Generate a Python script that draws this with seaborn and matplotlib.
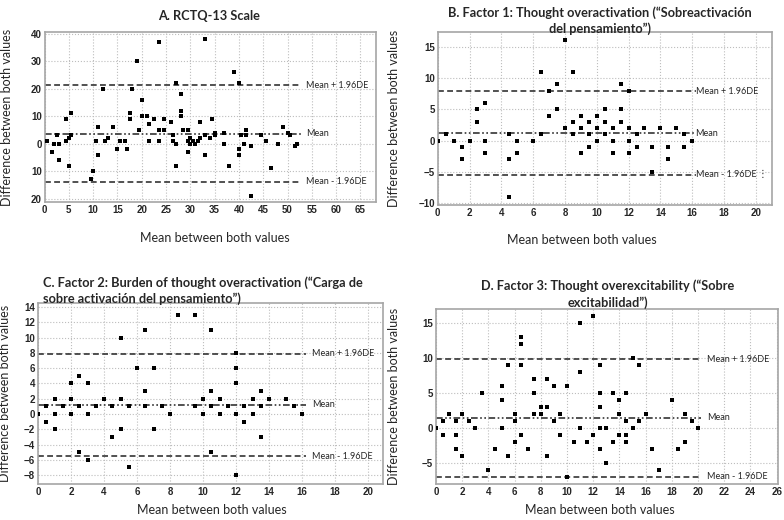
import numpy as np
import pandas as pd
import matplotlib
matplotlib.use("Agg")
import matplotlib.pyplot as plt
import matplotlib.ticker as ticker
import seaborn as sns

# =============================================================================
# DATA
# =============================================================================
# A. RCTQ-13 Scale
a_mean_x = [0.5, 1.5, 2, 2.5, 3, 3, 4.5, 4.5, 5, 5.5, 5.5, 5,
            9.5, 10, 10.5, 11, 11, 12, 12.5, 13, 14, 15, 15.5, 16.5, 17,
            17.5, 17.5, 18, 19, 19.5, 20, 20, 21, 21.5, 21.5, 22.5, 23.5, 23.5, 23.5,
            24.5, 24.5, 26, 26.5, 26.5, 27, 27, 27, 28, 28, 28, 28.5, 29.5, 29.5,
            29.5, 30, 30.5, 31, 31.5, 30, 32, 32, 33, 33, 33, 34, 34.5, 35, 35, 37, 37, 38,
            39, 40, 40, 40, 40.5, 41, 41.5, 41.5, 42.5, 42.5, 44.5, 45.5, 46.5, 48, 49, 50, 50.5, 51.5, 52]
a_diff = [1, -3, 0, 3, 0, -6, 9, 1, 2, 11, 3, -8,
          -13, -10, 1, 6, -4, 20, 1, 2, 6, -2, 1, 1, -2,
          11, 9, 20, 30, 5, 16, 10, 10, 7, 1, 9, 37, 5, 1,
          9, 5, 8, 3, 1, 0, 22, -8, 18, 12, 10, 5, 5, -3,
          1, 0, 1, 0, 1, 2, 2, 8, 38, 3, -4, 2, 9, 3, 4, 4, 0, -8,
          26, 22, -2, -4, 3, 0, 3, 5, -1, -19, 3, 1, -9, 0, 6, 4, 3, -1, 0]
a_limits = [3.7, 21.2, -13.8]   # mean, mean + 1.96DE, mean - 1.96DE

# B. Factor 1
b_mean_x = [0, 0.5, 1, 1.5, 1.5, 2, 2.5, 2.5, 3, 3, 3, 4.5, 4.5, 4.5, 5, 5, 6,
            6.5, 6.5, 7, 7, 7.5, 7.5, 8, 8, 8.5, 8.5, 8.5, 9, 9, 9, 9.5, 9.5, 9.5,
            10, 10, 10, 10.5, 10.5, 10.5, 11, 11, 11, 11.5, 11.5, 11.5, 12, 12, 12, 12,
            12.5, 12.5, 13, 13.5, 13.5, 14, 14.5, 14.5, 15, 15.5, 15.5, 16]
b_diff = [0, 1, 0, -1, -3, 0, 5, 3, 6, 0, -2, 1, -3, -9, 0, -2, 0,
          11, 1, 8, 4, 9, 5, 16, 2, 11, 3, 1, 4, 2, -2, 3, 1, -1,
          4, 2, 0, 5, 3, 1, 2, 0, -2, 9, 5, 3, 8, 2, 0, -2,
          1, -1, 2, -1, -5, 2, -1, -3, 2, 1, -1, 0]
b_limits = [1.2, 7.9, -5.5]

# C. Factor 2
c_mean_x = [0, 0.5, 0.5, 1, 1, 1, 1.5, 2, 2, 2, 2.5, 2.5, 2.5, 3, 3, 3, 3.5, 4, 4.5, 4.5,
            5, 5, 5, 5.5, 5.5, 6, 6.5, 6.5, 6.5, 7, 7, 7.5, 8, 8.5, 9.5, 9.5, 10, 10,
            10.5, 10.5, 10.5, 10.5, 11, 11, 11.5, 12, 12, 12, 12, 12, 12.5, 12.5,
            13, 13, 13.5, 13.5, 13.5, 14, 15, 15.5, 16]
c_diff = [0, 1, -1, 2, 0, -2, 1, 4, 2, 0, 5, 1, -5, 4, 0, -6, 1, 2, 1, -3,
          10, 2, -2, 1, -7, 6, 11, 3, 1, 6, -2, 1, 0, 13, 13, 1, 2, 0,
          11, 3, 1, -5, 2, 0, 1, 8, 6, 4, 0, -8, 1, -1,
          2, 0, 3, 1, -3, 2, 2, 1, 0]
c_limits = [1.2, 7.9, -5.5]

# D. Factor 3
d_mean_x = [0, 0.5, 0.5, 1, 1.5, 1.5, 1.5, 2, 2, 2.5, 3, 3.5, 4, 4.5, 5, 5, 5, 5.5,
            5.5, 6, 6, 6, 6.5, 6.5, 6.5, 6.5, 7, 7.5, 7.5, 7.5, 8, 8, 8.5, 8.5, 8.5,
            9, 9, 9.5, 9.5, 10, 10, 10.5, 11, 11, 11, 11.5, 12, 12, 12.5, 12.5, 12.5, 12.5, 12.5,
            13, 13, 13.5, 13.5, 14, 14, 14, 14.5, 14.5, 14.5, 14.5, 15, 15, 15.5, 15.5,
            16, 16.5, 17, 18, 18.5, 19, 19, 19.5, 20]
d_diff = [0, 1, -1, 2, 1, -1, -3, 2, -4, 1, 0, 5, -6, -3, 6, 4, 0, -4,
          9, 1, 2, -2, 12, 13, 9, -1, -3, 2, 7, 5, 3, 2, -4, 7, 3, 1,
          6, 2, -1, -7, 6, -2, 15, 8, 0, -2, -1, 16, 0, 9, 5, 3, -3, -5,
          0, -2, 5, -1, 4, 2, -2, 5, 1, -1, 10, 0, 9, 1,
          2, -3, -6, 4, -3, 2, -2, 1, 0]
d_limits = [1.5, 9.9, -6.9]

# =============================================================================
# STYLE
# =============================================================================
sns.set_theme(style="whitegrid")
plt.rcParams["font.family"] = ["Lato", "DejaVu Sans"]

W, H = 784, 520
fig = plt.figure(figsize=(W / 100, H / 100), dpi=100)


def px_axes(left, top, right, bottom):
    return fig.add_axes([left / W, 1 - bottom / H, (right - left) / W, (bottom - top) / H])


def panel(ax, xs, ys, limits, xlim, ylim, xticks, yticks, label_gap,
          ylab_x, xlab_pos, abs_labels=False):
    df = pd.DataFrame({"mean": xs, "diff": ys})
    sns.scatterplot(data=df, x="mean", y="diff", marker="s", s=9,
                    color="black", linewidth=0, ax=ax, zorder=3)
    xend = max(xs) + 0.01 * (xlim[1] - xlim[0])
    mean, upper, lower = limits
    ax.hlines(mean, 0, xend, colors="#333333", linewidth=1.2,
              linestyles=[(0, (4, 1.5, 1, 1.5, 1, 1.5))], zorder=2)
    ax.hlines([upper, lower], 0, xend, colors="#333333", linewidth=1.2,
              linestyles=[(0, (3.5, 2))], zorder=2)
    tx = xend + label_gap * (xlim[1] - xlim[0])
    ax.text(tx, upper, "Mean + 1.96DE", fontsize=6.5, va="center", ha="left")
    ax.text(tx, mean, "Mean", fontsize=6.5, va="center", ha="left")
    ax.text(tx, lower, "Mean - 1.96DE", fontsize=6.5, va="center", ha="left")

    ax.set_xlim(*xlim)
    ax.set_ylim(*ylim)
    ax.set_xticks(xticks)
    ax.set_yticks(yticks)
    if abs_labels:
        ax.yaxis.set_major_formatter(ticker.FuncFormatter(lambda v, _: f"{abs(v):g}"))
    for lab in ax.get_xticklabels() + ax.get_yticklabels():
        lab.set_fontsize(7)
        lab.set_fontweight("bold")
        lab.set_family(["Liberation Sans", "DejaVu Sans"])
    ax.tick_params(axis="both", length=0, pad=2)
    ax.grid(True, linestyle=":", color="#bdbdbd", linewidth=0.8)
    for sp in ax.spines.values():
        sp.set_color("#a6a6a6")
        sp.set_linewidth(1.2)
    ax.set_xlabel("Mean between both values", fontsize=9)
    ax.set_ylabel("Difference between both values", fontsize=9)
    ax.yaxis.set_label_coords(ylab_x, 0.5)
    ax.xaxis.set_label_coords(*xlab_pos)


# A
ax_a = px_axes(44.5, 32, 376, 202)
panel(ax_a, a_mean_x, a_diff, a_limits, (0, 68.2), (-21.2, 40.6),
      np.arange(0, 70, 5), [-20, -10, 0, 10, 20, 30, 40], 0.016,
      -0.095, (0.514, -0.175), abs_labels=True)
fig.text(209 / W, 1 - 16 / H, "A. RCTQ-13 Scale", fontsize=9.2,
         fontweight="bold", ha="center", va="center")

# B
ax_b = px_axes(437.7, 31.7, 771.7, 205)
panel(ax_b, b_mean_x, b_diff, b_limits, (0, 21), (-10.3, 17.4),
      np.arange(0, 21, 2), [-10, -5, 0, 5, 10, 15], 0.0,
      -0.113, (0.432, -0.165))
ax_b.text(20.4, -5.5, "\u22ee", fontsize=7, va="center", ha="center")
fig.text(600 / W, 1 - 20.5 / H,
         "B. Factor 1: Thought overactivation (\u201cSobreactivaci\u00f3n\ndel pensamiento\u201d)",
         fontsize=9.2, fontweight="bold", ha="center", va="center", linespacing=1.3)

# C
ax_c = px_axes(38, 303.3, 383, 484.3)
panel(ax_c, c_mean_x, c_diff, c_limits, (0, 20.9), (-9.2, 14.5),
      np.arange(0, 21, 2), np.arange(-8, 15, 2), 0.02,
      -0.077, (0.505, -0.11))
fig.text(43 / W, 1 - 291 / H,
         "C. Factor 2: Burden of thought overactivation (\u201cCarga de\nsobre activaci\u00f3n del pensamiento\u201d)",
         fontsize=9.2, fontweight="bold", ha="left", va="center", linespacing=1.3)

# D
ax_d = px_axes(436, 309.3, 778, 484.3)
panel(ax_d, d_mean_x, d_diff, d_limits, (0, 26.1), (-8, 17),
      np.arange(0, 27, 2), [-5, 0, 5, 10, 15], 0.017,
      -0.105, (0.48, -0.115))
fig.text(608 / W, 1 - 294 / H,
         "D. Factor 3: Thought overexcitability (\u201cSobre\nexcitabilidad\u201d)",
         fontsize=9.2, fontweight="bold", ha="center", va="center", linespacing=1.45)

fig.savefig("out.png", dpi=100)
